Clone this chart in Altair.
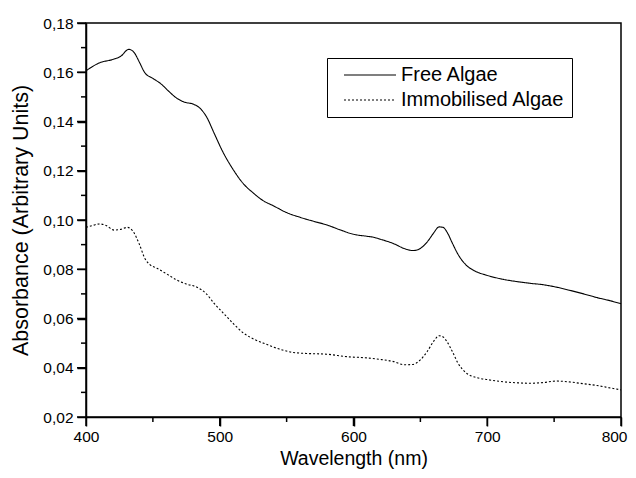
import altair as alt
import pandas as pd

free_wl = [400, 410, 420, 426, 432, 436, 440, 444, 450, 456, 462, 468, 474, 480, 485, 490,
           496, 502, 510, 518, 525, 532, 540, 550, 560, 570, 580, 590, 600, 610, 615, 620,
           630, 638, 644, 648, 652, 656, 660, 664, 667, 670, 674, 678, 684, 690, 700, 712,
           722, 732, 742, 752, 762, 772, 782, 792, 800]
free_abs = [0.1606, 0.1638, 0.1652, 0.1665, 0.1693, 0.1680, 0.1640, 0.1598, 0.1575, 0.1553,
            0.1522, 0.1494, 0.1478, 0.1471, 0.1455, 0.1420, 0.1350, 0.1280, 0.1205, 0.1145,
            0.1110, 0.1080, 0.1058, 0.1030, 0.1011, 0.0995, 0.0980, 0.0960, 0.0942, 0.0934,
            0.0930, 0.0922, 0.0904, 0.0884, 0.0876, 0.0879, 0.0893, 0.0917, 0.0948, 0.0972,
            0.0970, 0.0950, 0.0905, 0.0862, 0.0818, 0.0795, 0.0775, 0.0759, 0.0750, 0.0743,
            0.0737, 0.0727, 0.0714, 0.0700, 0.0685, 0.0672, 0.0660]

imm_wl = [400, 405, 410, 415, 421, 426, 431, 435, 440, 444, 448, 453, 460, 468, 475, 483,
          490, 496, 503, 510, 518, 526, 535, 545, 555, 565, 580, 595, 610, 620, 630, 638,
          644, 650, 655, 660, 664, 667, 670, 674, 678, 684, 692, 700, 712, 722, 732, 742,
          752, 762, 772, 782, 792, 800]
imm_abs = [0.0970, 0.0978, 0.0984, 0.0978, 0.0959, 0.0962, 0.0970, 0.0955, 0.0900, 0.0844,
           0.0818, 0.0804, 0.0782, 0.0756, 0.0740, 0.0727, 0.0700, 0.0660, 0.0620, 0.0580,
           0.0540, 0.0515, 0.0495, 0.0475, 0.0462, 0.0458, 0.0455, 0.0445, 0.0440, 0.0434,
           0.0425, 0.0412, 0.0413, 0.0432, 0.0465, 0.0508, 0.0530, 0.0525, 0.0505, 0.0465,
           0.0420, 0.0380, 0.0360, 0.0352, 0.0343, 0.0339, 0.0337, 0.0340, 0.0346, 0.0342,
           0.0335, 0.0328, 0.0318, 0.0310]

series_names = ["Free Algae", "Immobilised Algae"]
x_major = [400, 500, 600, 700, 800]
x_minor = [450, 550, 650, 750]
y_major = [0.02, 0.04, 0.06, 0.08, 0.10, 0.12, 0.14, 0.16, 0.18]
y_minor = [0.03, 0.05, 0.07, 0.09, 0.11, 0.13, 0.15, 0.17]

df = pd.concat([
    pd.DataFrame({"wl": free_wl, "abs": free_abs, "series": series_names[0]}),
    pd.DataFrame({"wl": imm_wl, "abs": imm_abs, "series": series_names[1]}),
])

W, H = 535, 394
MAJOR, MINOR = 9, 5
FONT = "Liberation Sans"
xscale = alt.Scale(domain=[400, 800], nice=False, zero=False)
yscale = alt.Scale(domain=[0.02, 0.18], nice=False, zero=False)

xaxis = alt.Axis(title="Wavelength (nm)", values=x_major, orient="bottom",
                 ticks=True, tickSize=MAJOR, tickColor="black", tickWidth=1.5,
                 labelPadding=3, labelFlush=False,
                 labelAlign={"condition": {"test": "datum.value == 800", "value": "right"},
                             "value": "center"},
                 labelOffset={"condition": {"test": "datum.value == 800", "value": 6},
                              "value": 0},
                 titleY=47, titleBaseline="alphabetic", titleFontSize=19.5)
yaxis = alt.Axis(title="Absorbance (Arbitrary Units)", values=y_major, orient="left",
                 labelExpr="replace(format(datum.value, '.2f'), '.', ',')",
                 ticks=True, tickSize=MAJOR, tickColor="black", tickWidth=1.5,
                 labelPadding=4, labelFlush=False,
                 titlePadding=10, titleFontSize=21.5)

main = alt.Chart(df).mark_line(color="black", strokeWidth=1.1, interpolate="monotone").encode(
    x=alt.X("wl:Q", scale=xscale, axis=xaxis),
    y=alt.Y("abs:Q", scale=yscale, axis=yaxis),
    strokeDash=alt.StrokeDash("series:N",
                              scale=alt.Scale(domain=series_names, range=[[1, 0], [2, 2]]),
                              legend=alt.Legend(title=None, orient="none", legendX=241, legendY=35,
                                                symbolType="M-4,0H4", symbolSize=169,
                                                symbolFillColor="transparent",
                                                symbolStrokeColor="black", symbolStrokeWidth=1.1,
                                                labelFontSize=20, labelFont=FONT, labelColor="black",
                                                labelLimit=300,
                                                strokeColor="black", fillColor="white", padding=7,
                                                symbolOffset=26, rowPadding=5, labelOffset=21)),
)


def xticks(vals, size):
    return alt.Chart(pd.DataFrame({"wl": vals})).mark_tick(
        color="black", orient="vertical", size=size, thickness=1.5, opacity=1,
        clip=False).encode(
        x=alt.X("wl:Q", scale=xscale, axis=xaxis),
        y=alt.value(H + size / 2),
    )


def yticks(vals, size):
    return alt.Chart(pd.DataFrame({"abs": vals})).mark_tick(
        color="black", orient="horizontal", size=size, thickness=1.5, opacity=1,
        clip=False).encode(
        y=alt.Y("abs:Q", scale=yscale, axis=yaxis),
        x=alt.value(-size / 2),
    )


chart = alt.layer(
    main,
    xticks(x_major, MAJOR), xticks(x_minor, MINOR),
    yticks(y_major, MAJOR), yticks(y_minor, MINOR),
).properties(
    width=W, height=H,
    autosize=alt.AutoSizeParams(type="none"),
    padding={"left": 78, "top": 15, "right": 7, "bottom": 53},
).configure_axis(
    domainColor="black", domainWidth=1.5,
    labelFont=FONT, labelFontSize=15.5, labelColor="black",
    titleFont=FONT, titleFontWeight="normal", titleColor="black",
    grid=False,
).configure_view(stroke="black", strokeWidth=1.5)

chart.save("out.html", embed_options={"renderer": "svg", "actions": False})
